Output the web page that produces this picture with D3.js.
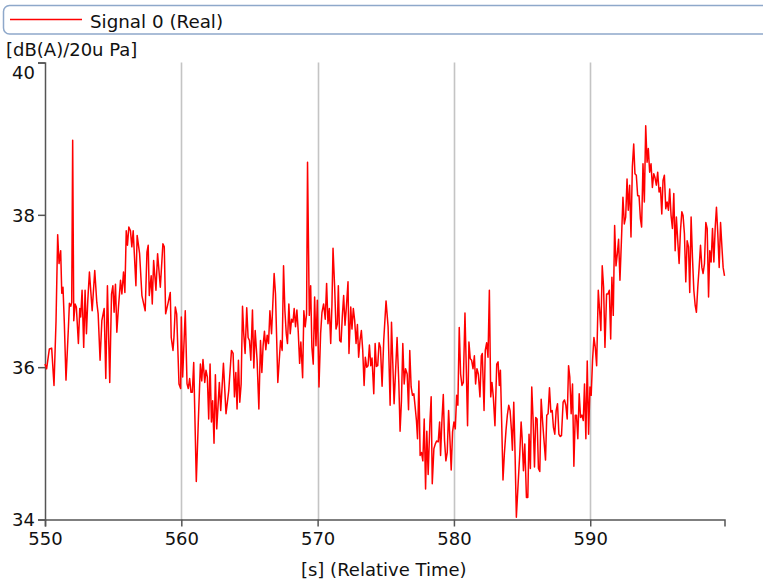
<!DOCTYPE html>
<html>
<head>
<meta charset="utf-8">
<script src="https://cdn.jsdelivr.net/npm/d3@7"></script>
<style>
  html, body { margin: 0; padding: 0; background: #fff; }
  svg { display: block; font-family: "DejaVu Sans", Verdana, sans-serif; }
</style>
</head>
<body>
<div class="svg-container"></div>
<script>
'use strict';

// signal samples: time [s] and level [dB(A)]
var times = [
    550.00, 550.12, 550.32, 550.49, 550.66, 550.81, 550.93, 551.03, 551.15, 551.23,
    551.32, 551.42, 551.54, 551.72, 551.79, 551.89, 551.96, 552.03, 552.11, 552.21,
    552.30, 552.45, 552.55, 552.62, 552.72, 552.84, 552.94, 553.04, 553.14, 553.26,
    553.46, 553.65, 553.80, 553.90, 554.04, 554.17, 554.34, 554.46, 554.58, 554.75,
    554.88, 554.98, 555.07, 555.17, 555.27, 555.39, 555.54, 555.64, 555.76, 555.86,
    555.96, 556.05, 556.15, 556.27, 556.37, 556.47, 556.67, 556.76, 556.94, 557.11,
    557.35, 557.48, 557.57, 557.65, 557.79, 557.87, 557.97, 558.14, 558.26, 558.46,
    558.65, 558.75, 558.85, 559.04, 559.19, 559.26, 559.39, 559.46, 559.56, 559.66,
    559.83, 559.95,
    560.00, 560.10, 560.29, 560.42, 560.51, 560.61, 560.71, 560.81, 560.91, 561.10,
    561.25, 561.40, 561.50, 561.59, 561.72, 561.81, 561.91, 562.01, 562.11, 562.21,
    562.30, 562.40, 562.50, 562.60, 562.79, 562.89, 563.09, 563.28, 563.48, 563.68,
    563.80, 563.90, 564.00, 564.09, 564.19, 564.29, 564.39, 564.49, 564.58, 564.68,
    564.80, 564.90, 565.00, 565.10, 565.22, 565.32, 565.42, 565.56, 565.69, 565.81,
    565.91, 566.00, 566.10, 566.20, 566.30, 566.40, 566.50, 566.62, 566.81, 566.91,
    567.08, 567.28, 567.40, 567.50, 567.60, 567.70, 567.79, 567.89, 567.99, 568.09,
    568.19, 568.28, 568.38, 568.48, 568.58, 568.68, 568.77, 568.90, 568.99, 569.09,
    569.19, 569.26, 569.39, 569.49, 569.58, 569.68, 569.78, 569.88, 569.98,
    570.10, 570.22, 570.32, 570.44, 570.56, 570.66, 570.76, 570.86, 570.96, 571.05,
    571.13, 571.25, 571.35, 571.45, 571.52, 571.62, 571.72, 571.81, 571.91, 572.01,
    572.11, 572.23, 572.30, 572.43, 572.52, 572.62, 572.72, 572.82, 572.92, 573.01,
    573.11, 573.21, 573.31, 573.41, 573.50, 573.60, 573.70, 573.80, 573.90, 573.99,
    574.12, 574.22, 574.31, 574.41, 574.51, 574.61, 574.73, 574.85, 575.02, 575.17,
    575.32, 575.42, 575.61, 575.83, 575.96, 576.05, 576.15, 576.25, 576.35, 576.45,
    576.57, 576.67, 576.76, 576.86, 576.96, 577.06, 577.16, 577.25, 577.33, 577.43,
    577.52, 577.62, 577.72, 577.82, 577.92, 578.01, 578.11, 578.24, 578.33, 578.41,
    578.53, 578.63, 578.73, 578.85, 578.95, 579.02, 579.12, 579.22, 579.31, 579.41,
    579.51, 579.61, 579.71, 579.80, 579.90, 580.00, 580.10, 580.20, 580.29, 580.39,
    580.49, 580.59, 580.69, 580.81,
    580.91, 581.00, 581.10, 581.20, 581.30, 581.40, 581.50, 581.59, 581.69, 581.79,
    581.91, 582.01, 582.08, 582.21, 582.30, 582.40, 582.50, 582.60, 582.70, 582.79,
    582.89, 583.01, 583.14, 583.24, 583.33, 583.41, 583.50, 583.60, 583.70, 583.82,
    583.92, 584.02, 584.12, 584.22, 584.29, 584.39, 584.49, 584.58, 584.71, 584.83,
    584.93, 585.00, 585.10, 585.20, 585.32, 585.42, 585.51, 585.61, 585.71, 585.81,
    585.91, 586.00, 586.10, 586.20, 586.30, 586.40, 586.50, 586.59, 586.72, 586.81,
    586.91, 587.01, 587.11, 587.21, 587.30, 587.40, 587.50, 587.60, 587.70, 587.79,
    587.89, 588.01, 588.11, 588.21, 588.31, 588.41, 588.50, 588.60, 588.70, 588.80,
    588.90, 588.99, 589.09, 589.19, 589.29, 589.39, 589.49, 589.58, 589.68, 589.78,
    589.88, 589.98, 590.07, 590.17, 590.27, 590.37, 590.47,
    590.59, 590.69, 590.78, 590.88, 590.98, 591.08, 591.20, 591.30, 591.40, 591.50,
    591.59, 591.69, 591.79, 591.89, 591.99, 592.08, 592.18, 592.28, 592.40, 592.50,
    592.60, 592.70, 592.79, 592.89, 592.99, 593.09, 593.19, 593.28, 593.38, 593.48,
    593.58, 593.68, 593.77, 593.87, 593.97, 594.07, 594.17, 594.26, 594.36, 594.46,
    594.56, 594.66, 594.75, 594.85, 594.95, 595.05, 595.15, 595.25, 595.34, 595.44,
    595.54, 595.64, 595.74, 595.83, 595.93, 596.03, 596.13, 596.23, 596.32, 596.42,
    596.52, 596.62, 596.72, 596.81, 596.91, 597.01, 597.11, 597.21, 597.30, 597.40,
    597.50, 597.60, 597.70, 597.79, 597.89, 597.99, 598.09, 598.19, 598.28, 598.38,
    598.48, 598.58, 598.68, 598.77, 598.87, 598.97, 599.07, 599.17, 599.26, 599.36,
    599.46, 599.56, 599.66, 599.75, 599.85
];

var levels = [
    36.04, 35.98, 36.24, 36.25, 35.76, 36.61, 37.74, 37.36, 37.53, 36.97,
    37.05, 36.57, 35.83, 36.53, 36.84, 36.80, 36.85, 38.98, 36.61, 36.83,
    36.79, 36.31, 36.77, 36.66, 37.01, 36.26, 37.01, 36.44, 36.88, 37.25,
    36.74, 37.27, 36.85, 36.70, 36.09, 36.61, 36.77, 35.85, 37.07, 35.80,
    36.96, 37.07, 36.72, 37.09, 36.46, 36.79, 37.14, 36.96, 37.25, 36.98,
    37.79, 37.60, 37.84, 37.79, 37.58, 37.79, 37.07, 37.73, 37.49, 36.94,
    36.74, 37.51, 37.60, 36.94, 37.20, 36.83, 37.40, 37.01, 37.49, 37.05,
    37.62, 37.58, 36.70, 36.85, 36.98, 36.39, 36.22, 36.39, 36.79, 36.70,
    35.78, 35.72,
    36.66, 35.87, 36.74, 35.78, 35.72, 35.85, 35.67, 35.67, 36.06, 34.50,
    35.30, 36.04, 35.82, 36.10, 35.80, 35.96, 35.87, 35.32, 36.04, 35.28,
    35.56, 35.00, 35.90, 35.19, 35.80, 35.43, 36.05, 35.39, 35.69, 36.22,
    36.18, 35.61, 35.93, 35.45, 36.09, 35.54, 35.78, 36.80, 36.44, 36.18,
    36.78, 36.39, 36.35, 36.09, 36.75, 35.99, 36.48, 36.09, 35.45, 36.35,
    35.93, 36.28, 36.47, 36.23, 36.42, 36.31, 36.74, 36.44, 37.23, 36.96,
    35.80, 36.35, 36.22, 37.33, 36.74, 36.44, 36.31, 36.83, 36.44, 36.63,
    36.59, 36.77, 36.53, 36.75, 36.46, 36.05, 36.33, 35.86, 36.74, 36.53,
    36.70, 38.69, 36.68, 37.07, 36.26, 36.04, 36.92, 36.28, 36.88,
    35.74, 36.44, 36.72, 36.83, 36.63, 37.10, 36.57, 36.77, 36.31, 36.81,
    37.56, 37.05, 36.50, 36.57, 37.07, 36.35, 36.33, 36.66, 36.94, 36.55,
    36.79, 37.12, 36.18, 36.79, 36.50, 36.77, 36.61, 36.31, 36.56, 36.13,
    36.35, 36.48, 36.22, 35.76, 36.13, 36.00, 36.02, 36.29, 36.02, 36.12,
    35.65, 36.31, 36.01, 36.02, 36.32, 36.26, 35.75, 36.35, 36.87, 36.53,
    35.50, 36.59, 35.52, 36.39, 35.78, 35.16, 35.56, 36.31, 35.78, 35.98,
    35.91, 35.44, 36.22, 35.74, 35.63, 35.65, 35.47, 35.30, 35.06, 35.82,
    34.84, 34.88, 34.77, 35.32, 34.40, 35.16, 34.59, 35.28, 35.61, 34.47,
    34.93, 34.99, 35.03, 35.02, 35.28, 34.84, 35.30, 35.64, 35.04, 34.77,
    34.88, 35.43, 35.04, 34.65, 35.15, 35.28, 35.19, 35.63, 35.50, 36.52,
    35.91, 35.76, 35.80, 36.71,
    35.96, 35.23, 36.33, 36.11, 36.09, 35.98, 36.15, 35.78, 35.98, 35.91,
    35.61, 36.15, 36.18, 35.43, 36.22, 36.32, 36.13, 37.01, 35.61, 35.80,
    35.61, 35.23, 36.04, 36.07, 35.76, 35.96, 35.30, 34.52, 34.86, 35.17,
    35.37, 35.50, 35.43, 35.17, 34.91, 35.54, 34.82, 34.03, 34.47, 34.86,
    35.28, 35.08, 34.64, 34.99, 34.29, 34.29, 35.12, 34.67, 35.74, 35.30,
    34.69, 35.34, 35.32, 34.67, 34.63, 35.58, 35.30, 35.08, 34.78, 35.37,
    35.39, 35.73, 35.41, 35.43, 35.21, 35.12, 35.43, 35.52, 35.12, 35.09,
    35.10, 35.54, 35.57, 35.50, 35.32, 36.02, 35.87, 35.39, 35.78, 34.70,
    35.37, 35.37, 35.06, 35.65, 35.34, 35.37, 35.30, 35.78, 35.06, 36.08,
    35.12, 35.74, 35.63, 36.09, 36.39, 36.26, 36.02,
    37.01, 36.74, 36.48, 37.33, 37.05, 36.26, 36.96, 36.96, 37.01, 36.37,
    37.18, 36.68, 37.86, 37.33, 37.49, 37.68, 37.14, 37.62, 38.23, 37.88,
    37.97, 38.47, 38.06, 38.39, 37.71, 38.63, 38.93, 38.54, 38.52, 38.25,
    38.25, 37.95, 37.84, 38.67, 38.17, 39.17, 38.69, 38.87, 38.56, 38.67,
    38.36, 38.54, 38.49, 38.39, 38.56, 38.30, 38.36, 38.01, 38.45, 38.52,
    38.08, 38.17, 38.06, 38.34, 37.99, 37.82, 38.28, 37.53, 37.97, 37.66,
    37.36, 37.79, 38.04, 37.99, 37.75, 37.12, 37.66, 37.58, 36.98, 37.97,
    37.44, 37.01, 36.81, 36.72, 37.05, 37.31, 37.60, 37.31, 37.23, 37.36,
    37.90, 37.82, 36.92, 37.53, 37.38, 37.82, 37.38, 37.84, 38.10, 37.75,
    37.31, 37.90, 37.58, 37.31, 37.20
];

var xTicks = [550, 560, 570, 580, 590];
var yTicks = [34, 36, 38, 40];
var seriesName = 'Signal 0 (Real)';
var yUnit = '[dB(A)/20u Pa]';
var xTitle = '[s] (Relative Time)';

var width = 763, height = 581;
var plot = { left: 45, right: 724.5, top: 62.5, bottom: 519.5 };

var svg = d3.select('.svg-container').append('svg')
    .attr('width', width)
    .attr('height', height);

var x = d3.scaleLinear()
    .domain([550, d3.max(times)])
    .range([plot.left, plot.right]);

var y = d3.scaleLinear()
    .domain([34, 40])
    .range([plot.bottom, plot.top]);

function drawLegend(){
    var legend = svg.append('g').attr('class', 'legend');

    legend.append('rect')
        .attr('x', 3.5)
        .attr('y', 5.5)
        .attr('width', 790)
        .attr('height', 28.5)
        .attr('rx', 6)
        .style('fill', '#fff')
        .style('stroke', '#8ea8ca')
        .style('stroke-width', 1.5);

    legend.append('line')
        .attr('x1', 10).attr('x2', 82)
        .attr('y1', 19.5).attr('y2', 19.5)
        .style('stroke', '#ff0000')
        .style('stroke-width', 1.5);

    legend.append('text')
        .attr('x', 90)
        .attr('y', 28)
        .style('font-size', '18.3px')
        .style('fill', '#111')
        .text(seriesName);
}

function drawGrid(){
    svg.append('g').attr('class', 'grid')
        .selectAll('line')
        .data(xTicks.filter(function(d){ return d !== 550; }))
        .join('line')
        .attr('x1', function(d){ return Math.round(x(d)) + 0.5; })
        .attr('x2', function(d){ return Math.round(x(d)) + 0.5; })
        .attr('y1', plot.top)
        .attr('y2', plot.bottom)
        .style('stroke', '#c4c4c4')
        .style('stroke-width', 1.6);
}

function drawAxes(){
    var xAxis = d3.axisBottom(x)
        .tickValues(xTicks)
        .tickSize(7)
        .tickPadding(5)
        .tickFormat(d3.format('d'));

    var yAxis = d3.axisLeft(y)
        .tickValues(yTicks)
        .tickSize(7)
        .tickPadding(3)
        .tickFormat(d3.format('d'));

    var gx = svg.append('g')
        .attr('transform', 'translate(0,' + plot.bottom + ')')
        .call(xAxis);

    var gy = svg.append('g')
        .attr('transform', 'translate(' + plot.left + ',0)')
        .call(yAxis);

    [gx, gy].forEach(function(g){
        g.select('.domain').style('stroke', '#555').style('stroke-width', 1.5);
        g.selectAll('.tick line').style('stroke', '#555').style('stroke-width', 1.5);
        g.selectAll('.tick text')
            .style('font-family', '"DejaVu Sans", Verdana, sans-serif')
            .style('font-size', '18px')
            .style('fill', '#111');
    });

    gx.selectAll('.tick text').attr('dy', '0.76em');

    // top label is pushed down so it clears the unit caption
    gy.selectAll('.tick text')
        .attr('dy', function(d){ return d === 40 ? '0.88em' : '0.36em'; });

    svg.append('text')
        .attr('x', 6)
        .attr('y', 56)
        .style('font-size', '18px')
        .style('fill', '#111')
        .text(yUnit);

    svg.append('text')
        .attr('x', (plot.left + plot.right) / 2 - 1)
        .attr('y', 576)
        .attr('text-anchor', 'middle')
        .style('font-size', '18px')
        .style('fill', '#111')
        .text(xTitle);
}

function drawSignal(){
    var line = d3.line()
        .x(function(d, i){ return x(times[i]); })
        .y(function(d){ return y(d); });

    svg.append('path')
        .datum(levels)
        .attr('d', line)
        .style('fill', 'none')
        .style('stroke', '#ff0000')
        .style('stroke-width', 1.5)
        .style('stroke-linejoin', 'round');
}

drawLegend();
drawGrid();
drawAxes();
drawSignal();
</script>
</body>
</html>
